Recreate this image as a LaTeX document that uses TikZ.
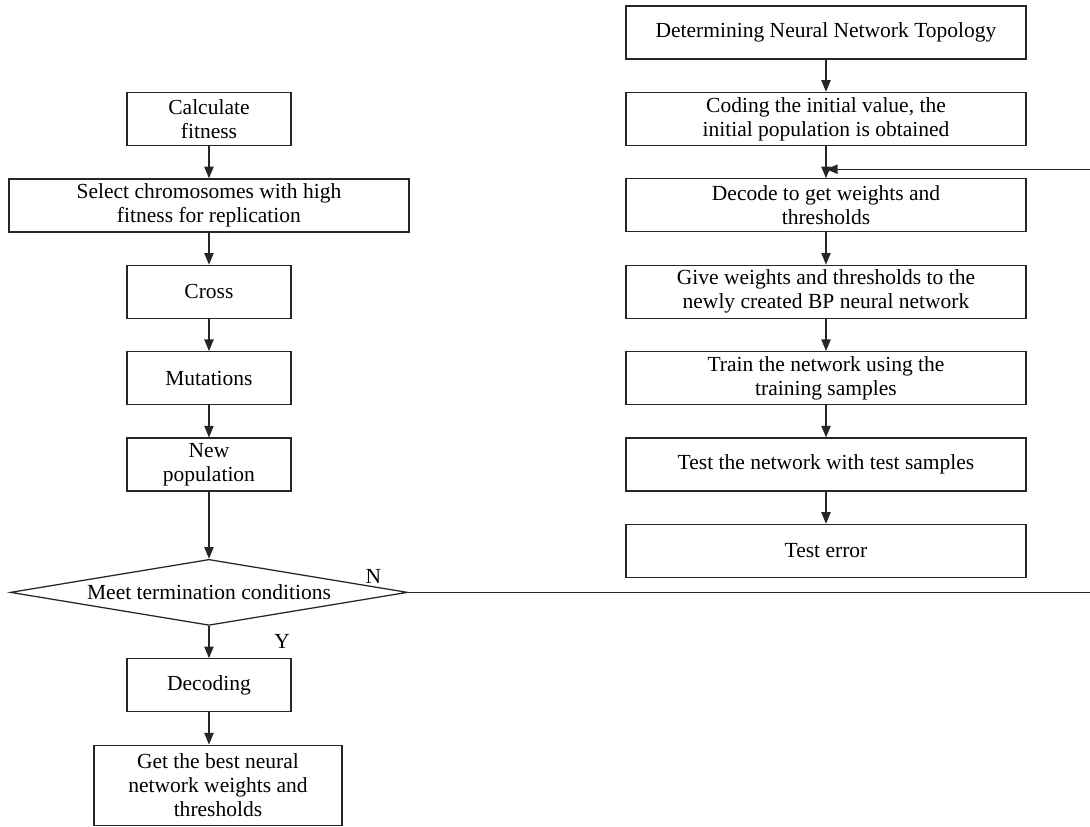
\documentclass[tikz,border=0pt]{standalone}
\usepackage{fontspec}
\setmainfont{Liberation Serif}
\usetikzlibrary{calc,arrows.meta,positioning,shapes.geometric}

\begin{document}
\begin{tikzpicture}[node distance=5.36mm and 2mm,font=\fontsize{10.2}{11.4}\selectfont]

\tikzset{bigbox/.style={draw=black!85,line width=0.6pt,minimum width=6.667cm,minimum height=0.883cm,inner sep=1pt,align=center,shape=rectangle},
smallbox/.style={bigbox,minimum width=2.733cm},
decision/.style={draw=black!85,line width=0.6pt,shape=diamond,aspect=6,inner sep=1pt,minimum width=6.62cm,minimum height=1.1cm},
flow/.style={draw=black!85,line width=0.6pt,-{Triangle[length=5.5pt,width=4.4pt]}},
plainline/.style={draw=black!85,line width=0.6pt}}

% Frame
\useasboundingbox (0,0) rectangle (18.167,-13.783);

% Network steps (right)
\node[bigbox] (r1) at (13.767,-0.542) {Determining Neural Network Topology};
\node (r2) [bigbox,below=of r1] {Coding the initial value, the\\initial population is obtained};
\node (r3) [bigbox,below=of r2] {Decode to get weights and\\thresholds};
\node (r4) [bigbox,below=of r3] {Give weights and thresholds to the\\newly created BP neural network};
\node (r5) [bigbox,below=of r4] {Train the network using the\\training samples};
\node (r6) [bigbox,below=of r5] {Test the network with test samples};
\node (r7) [bigbox,below=of r6] {Test error};
\foreach \a/\b in {1/2,2/3,3/4,4/5,5/6,6/7} \draw[flow] (r\a) -- (r\b);

% Genetic steps (left)
\node[smallbox] (fit) at (3.483,-1.983) {Calculate\\fitness};
\node (sel) [bigbox,below=of fit] {Select chromosomes with high\\fitness for replication};
\node (cross) [smallbox,below=of sel] {Cross};
\node (mut) [smallbox,below=of cross] {Mutations};
\node (pop) [smallbox,below=of mut] {New\\population};
\node (stop) [decision,below=1.117cm of pop] {Meet termination conditions};
\node (dec) [smallbox,below=of stop] {Decoding};
\node (best) [smallbox,minimum width=4.133cm,minimum height=1.333cm,below=of dec,xshift=0.15cm] {Get the best neural\\network weights and\\thresholds};
\draw[flow] (fit) -- (sel);
\draw[flow] (sel) -- (cross);
\draw[flow] (cross) -- (mut);
\draw[flow] (mut) -- (pop);
\draw[flow] (pop) -- (stop);
\draw[flow] (stop) -- (dec);
\draw[flow] (dec.south) -- (dec.south |- best.north);

% Loop back
\coordinate (join) at ($(r3.north)+(0,0.15)$);
\coordinate (loop) at (18.2,0);
\draw[plainline] (stop.east) -- (stop.east -| loop) -- (join -| loop);
\draw[flow] (join -| loop) -- (join);

% Branch labels
\node (nlab) at ($(stop.east)+(-0.58,0.27)$) {N};
\node (ylab) at ($(stop.south)+(1.22,-0.25)$) {Y};

\end{tikzpicture}
\end{document}
